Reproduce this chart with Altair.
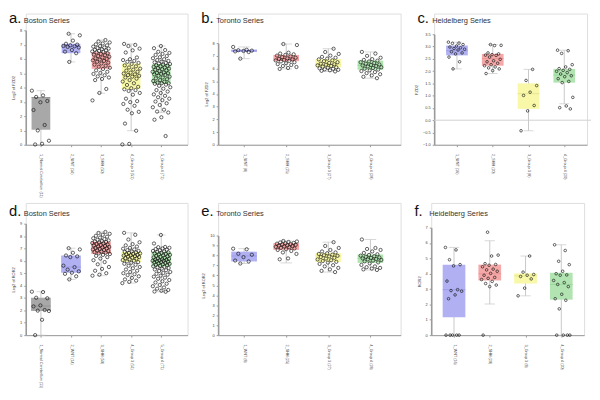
import altair as alt
import pandas as pd
import numpy as np

FONT = "Liberation Sans"

# ---------------- Panel a: Boston Series (FZD2) ----------------
A_CATS = ["1_Normal Cerebellum (11)", "2_WNT (14)", "3_SHH (50)", "4_Group 3 (51)", "5_Group 4 (71)"]
A_Q1 = [1.05, 6.40, 5.31, 3.89, 4.26]
A_MED = [3.30, 6.85, 6.00, 4.87, 5.00]
A_Q3 = [3.34, 7.06, 6.47, 5.68, 5.64]
A_LO = [0.02, 5.79, 3.60, 0.98, 2.25]
A_HI = [3.78, 7.76, 7.32, 7.05, 6.90]
A_PTS = [
    [3.78, 3.45, 3.34, 3.06, 2.97, 2.43, 1.38, 1.0, 0.28, 0.07, 0.02],
    [7.76, 7.65, 7.28, 7.06, 7.0, 6.95, 6.9, 6.88, 6.84, 6.8, 6.62, 6.51, 6.4, 5.79],
    [7.32, 7.22, 7.15, 7.08, 7.02, 6.95, 6.9, 6.86, 6.8, 6.76, 6.72, 6.68, 6.64, 6.6, 6.56,
     6.52, 6.48, 6.45, 6.4, 6.35, 6.3, 6.26, 6.2, 6.15, 6.1, 6.04, 6.0, 5.95, 5.9, 5.86,
     5.8, 5.74, 5.68, 5.6, 5.52, 5.45, 5.38, 5.3, 5.2, 5.1, 5.02, 4.95, 4.86, 4.78, 4.7,
     4.6, 4.52, 3.9, 3.62, 3.1],
    [7.05, 6.98, 6.9, 6.72, 6.6, 6.45, 6.1, 5.98, 5.92, 5.86, 5.8, 5.72, 5.65, 5.55, 5.48,
     5.4, 5.32, 5.25, 5.18, 5.1, 5.04, 4.98, 4.92, 4.87, 4.82, 4.76, 4.7, 4.62, 4.52, 4.42,
     4.3, 4.18, 4.05, 3.95, 3.88, 3.82, 3.76, 3.62, 3.5, 3.22, 3.05, 2.98, 2.85, 2.72, 2.45,
     2.3, 2.2, 1.48, 0.98, 0.06, 0.02],
    [6.9, 6.75, 6.62, 6.5, 6.42, 6.35, 6.28, 6.2, 6.12, 6.05, 5.98, 5.92, 5.86, 5.8, 5.76,
     5.72, 5.68, 5.64, 5.6, 5.56, 5.52, 5.48, 5.44, 5.4, 5.36, 5.32, 5.28, 5.24, 5.2, 5.15,
     5.1, 5.05, 5.02, 5.0, 4.96, 4.92, 4.88, 4.82, 4.76, 4.7, 4.64, 4.58, 4.52, 4.46, 4.4,
     4.34, 4.3, 4.3, 4.26, 4.2, 4.12, 4.02, 3.92, 3.82, 3.72, 3.62, 3.52, 3.42, 3.32, 3.22,
     3.12, 3.02, 2.9, 2.78, 2.62, 2.45, 2.32, 2.25, 1.92, 1.75, 0.61],
]

# ---------------- Panel b: Toronto Series (FZD2) ----------------
B_CATS = ["1_WNT (8)", "2_SHH (25)", "3_Group 3 (27)", "4_Group 4 (28)"]
B_Q1 = [7.31, 6.58, 6.09, 5.90]
B_MED = [7.40, 6.75, 6.34, 6.26]
B_Q3 = [7.49, 7.07, 6.75, 6.63]
B_LO = [6.78, 5.97, 5.77, 5.24]
B_HI = [7.70, 7.93, 7.56, 7.31]
B_PTS = [
    [7.7, 7.48, 7.44, 7.41, 7.38, 7.35, 7.3, 6.78],
    [7.93, 7.85, 7.25, 7.18, 7.12, 7.07, 7.02, 6.96, 6.9, 6.85, 6.8, 6.76, 6.72, 6.68, 6.64,
     6.6, 6.56, 6.5, 6.42, 6.35, 6.28, 6.2, 6.12, 6.04, 5.97],
    [7.56, 7.3, 7.15, 7.02, 6.92, 6.85, 6.78, 6.72, 6.65, 6.58, 6.5, 6.44, 6.38, 6.34, 6.3,
     6.25, 6.2, 6.15, 6.1, 6.06, 6.02, 5.98, 5.94, 5.9, 5.86, 5.82, 5.77],
    [7.31, 7.18, 7.0, 6.85, 6.74, 6.68, 6.62, 6.56, 6.5, 6.44, 6.38, 6.32, 6.28, 6.24, 6.2,
     6.16, 6.1, 6.04, 5.98, 5.92, 5.86, 5.8, 5.72, 5.64, 5.55, 5.46, 5.35, 5.24],
]

# ---------------- Panel c: Heidelberg Series (FZD2) ----------------
C_CATS = ["1_WNT (16)", "2_SHH (20)", "3_Group 3 (8)", "4_Group 4 (20)"]
C_Q1 = [2.64, 2.22, 0.46, 1.53]
C_MED = [2.83, 2.51, 1.08, 1.84]
C_Q3 = [3.04, 2.70, 1.50, 2.09]
C_LO = [2.09, 1.90, -0.43, 0.67]
C_HI = [3.18, 3.08, 2.07, 2.85]
C_PTS = [
    [3.18, 3.14, 3.13, 3.08, 3.02, 2.98, 2.95, 2.92, 2.89, 2.86, 2.79, 2.74, 2.7, 2.57, 2.38, 2.09],
    [3.08, 3.05, 3.04, 2.74, 2.7, 2.67, 2.65, 2.64, 2.57, 2.48, 2.42, 2.38, 2.32, 2.26, 2.22,
     2.17, 2.13, 2.09, 2.02, 1.9],
    [2.07, 1.62, 1.41, 1.14, 1.01, 0.6, 0.38, -0.43],
    [2.85, 2.83, 2.72, 2.26, 2.17, 2.1, 2.07, 2.03, 1.99, 1.94, 1.88, 1.81, 1.77, 1.69, 1.58,
     1.53, 0.93, 0.58, 0.51, 0.46],
]

# ---------------- Panel d: Boston Series (second gene) ----------------
D_CATS = A_CATS
D_Q1 = [1.95, 5.04, 6.55, 5.91, 5.54]
D_MED = [2.35, 5.50, 7.10, 6.43, 6.10]
D_Q3 = [3.02, 6.43, 7.54, 6.73, 6.73]
D_LO = [0.0, 4.50, 4.80, 4.20, 3.50]
D_HI = [3.51, 7.02, 8.33, 8.26, 8.09]
D_PTS = [
    [3.51, 3.48, 3.02, 2.98, 2.4, 2.32, 2.03, 1.98, 1.95, 1.24, 0.0],
    [7.02, 6.92, 6.65, 6.43, 6.36, 6.3, 5.61, 5.49, 5.29, 5.15, 5.04, 4.95, 4.75, 4.5],
    [8.33, 8.25, 8.18, 8.1, 8.02, 7.95, 7.88, 7.82, 7.76, 7.7, 7.65, 7.6, 7.56, 7.52, 7.48,
     7.44, 7.4, 7.36, 7.32, 7.28, 7.24, 7.2, 7.16, 7.12, 7.08, 7.04, 7.0, 6.96, 6.92, 6.88,
     6.84, 6.8, 6.75, 6.7, 6.65, 6.6, 6.55, 6.48, 6.4, 6.3, 6.18, 6.05, 5.9, 5.72, 5.5,
     5.35, 5.2, 5.0, 4.88, 4.8],
    [8.26, 8.1, 7.72, 7.5, 7.35, 7.25, 7.15, 7.05, 6.98, 6.92, 6.86, 6.8, 6.76, 6.72, 6.68,
     6.64, 6.6, 6.56, 6.52, 6.48, 6.45, 6.42, 6.38, 6.34, 6.3, 6.26, 6.22, 6.18, 6.12, 6.06,
     6.0, 5.95, 5.9, 5.84, 5.76, 5.68, 5.6, 5.5, 5.4, 5.3, 5.2, 5.1, 5.0, 4.92, 4.85,
     4.75, 4.62, 4.5, 4.4, 4.3, 4.2],
    [8.09, 7.4, 7.12, 7.1, 7.05, 7.0, 6.95, 6.9, 6.85, 6.8, 6.76, 6.72, 6.68, 6.64, 6.6,
     6.56, 6.52, 6.48, 6.44, 6.4, 6.36, 6.32, 6.28, 6.24, 6.2, 6.16, 6.12, 6.1, 6.08, 6.04,
     6.0, 6.0, 5.96, 5.92, 5.9, 5.88, 5.84, 5.8, 5.76, 5.72, 5.68, 5.64, 5.6, 5.56, 5.52,
     5.48, 5.42, 5.36, 5.3, 5.24, 5.18, 5.1, 5.02, 4.95, 4.88, 4.8, 4.72, 4.64, 4.55, 4.45,
     4.35, 4.25, 4.15, 4.05, 3.95, 3.85, 3.75, 3.65, 3.58, 3.52, 3.5],
]

# ---------------- Panel e: Toronto Series (second gene) ----------------
E_CATS = B_CATS
E_Q1 = [7.40, 8.56, 7.34, 7.25]
E_MED = [7.95, 8.93, 7.95, 7.71]
E_Q3 = [8.38, 9.24, 8.23, 8.10]
E_LO = [7.19, 7.25, 6.33, 6.54]
E_HI = [8.68, 9.45, 9.33, 9.60]
E_PTS = [
    [8.68, 8.62, 8.17, 8.07, 7.83, 7.49, 7.4, 7.19],
    [9.45, 9.4, 9.35, 9.3, 9.26, 9.22, 9.18, 9.14, 9.1, 9.06, 9.02, 8.98, 8.94, 8.9, 8.86,
     8.82, 8.76, 8.7, 8.62, 8.55, 8.45, 8.3, 8.15, 7.7, 7.61],
    [9.33, 8.95, 8.75, 8.55, 8.4, 8.3, 8.22, 8.15, 8.08, 8.02, 7.96, 7.9, 7.84, 7.76, 7.68,
     7.6, 7.52, 7.44, 7.36, 7.28, 7.15, 7.02, 6.9, 6.75, 6.6, 6.45, 6.33],
    [9.6, 8.75, 8.65, 8.55, 8.4, 8.25, 8.12, 8.05, 7.98, 7.92, 7.86, 7.8, 7.75, 7.7, 7.65,
     7.6, 7.54, 7.48, 7.4, 7.3, 7.2, 7.05, 6.9, 6.82, 6.75, 6.68, 6.6, 6.54],
]

# ---------------- Panel f: Heidelberg Series (second gene) ----------------
F_CATS = C_CATS
F_Q1 = [1.17, 3.56, 3.36, 2.31]
F_MED = [2.96, 4.00, 3.86, 3.30]
F_Q3 = [4.59, 4.59, 4.02, 4.06]
F_LO = [0.0, 2.03, 2.56, 0.0]
F_HI = [5.71, 6.14, 5.15, 5.88]
F_PTS = [
    [5.71, 5.55, 4.91, 4.59, 4.51, 3.52, 2.96, 2.9, 2.86, 2.62, 2.37, 0.0, 0.0, 0.0, 0.0, 0.0],
    [6.7, 5.21, 5.15, 4.65, 4.6, 4.55, 4.45, 4.3, 4.25, 4.16, 4.02, 3.9, 3.76, 3.7, 3.62,
     3.5, 3.36, 3.26, 3.16, 0.0],
    [5.15, 4.1, 3.95, 3.9, 3.82, 3.66, 3.06, 2.56],
    [5.88, 5.51, 4.81, 4.59, 4.16, 4.0, 3.92, 3.9, 3.56, 3.42, 3.3, 3.16, 2.66, 2.37, 2.27,
     1.71, 0.0, 0.0, 0.0, 0.0],
]

BOX5 = ["#a8a8a8", "#b0b0f2", "#f5a8a8", "#f8f8a8", "#b2e4b2"]
MED5 = ["#8e8e8e", "#9595e6", "#e88e8e", "#e0e08a", "#90d090"]
BOX4 = BOX5[1:]
MED4 = MED5[1:]
WHISK = "#c8c8c8"
AXC = "#9a9a9a"


def panel(letter, series, cats, q1, med, q3, lo, hi, pts, box_cols, med_cols,
          ydom, ystep, yfmt, ytitle, W, H, ytop, xdom, box_w, pt_size, jit,
          letter_y, zero=False):
    n = len(cats)
    boxes = pd.DataFrame({"idx": list(range(1, n + 1)), "q1": q1, "med": med, "q3": q3,
                          "lo": lo, "hi": hi, "col": box_cols, "mcol": med_cols})
    rows = []
    for i, grp in enumerate(pts):
        for j, v in enumerate(grp):
            off = ((j * 0.6180339887 + i * 0.37) % 1.0 - 0.5) * 2 * jit
            rows.append({"xj": i + 1 + off, "v": v})
    pdf = pd.DataFrame(rows)

    names = ",".join("'%s'" % c for c in cats)
    xaxis = alt.Axis(values=list(range(1, n + 1)), labelExpr="[%s][datum.value - 1]" % names,
                     labelAngle=90, labelAlign="left", labelBaseline="middle",
                     labelFontSize=3.8, labelFont=FONT, labelColor="#444", labelPadding=7,
                     tickSize=2, tickColor=AXC, domainColor=AXC, domainWidth=1,
                     grid=False, title=None)
    ticks = [round(t, 2) for t in np.arange(ydom[0], ydom[1] + 1e-9, ystep)]
    yaxis = alt.Axis(values=ticks, format=yfmt, labelFontSize=4, labelFont=FONT,
                     labelColor="#444", tickSize=2, tickColor=AXC, domainColor=AXC,
                     domainWidth=1.6, grid=False, title=ytitle, titleFontSize=4,
                     titleFont=FONT, titleFontWeight="normal", titleColor="#444",
                     titlePadding=4, labelPadding=2)
    xscale = alt.Scale(domain=xdom, nice=False, zero=False)
    yscale = alt.Scale(domain=ydom, range=[H, ytop], nice=False, zero=False)

    def X(f):
        return alt.X(f + ":Q", scale=xscale, axis=xaxis)

    def Y(f):
        return alt.Y(f + ":Q", scale=yscale, axis=yaxis)

    base = alt.Chart(boxes)
    layers = []
    if zero:
        layers.append(alt.Chart(pd.DataFrame({"z": [0.0]})).mark_rule(color="#d0d0d0", strokeWidth=1)
                      .encode(y=Y("z"), x=alt.value(0), x2=alt.value(W + 4)))
    layers += [
        base.mark_rule(color=WHISK, strokeWidth=1).encode(x=X("idx"), y=Y("lo"), y2=alt.Y2("hi")),
        base.mark_tick(orient="horizontal", size=box_w * 0.45, thickness=1, color=WHISK)
            .encode(x=X("idx"), y=Y("lo")),
        base.mark_tick(orient="horizontal", size=box_w * 0.45, thickness=1, color=WHISK)
            .encode(x=X("idx"), y=Y("hi")),
        base.mark_bar(width=box_w).encode(x=X("idx"), y=Y("q1"), y2=alt.Y2("q3"),
                                          color=alt.Color("col:N", scale=None)),
        base.mark_tick(orient="horizontal", size=box_w, thickness=1)
            .encode(x=X("idx"), y=Y("med"), color=alt.Color("mcol:N", scale=None)),
        alt.Chart(pdf).mark_point(shape="circle", filled=False, color="#111", size=pt_size,
                                  strokeWidth=0.65, opacity=1).encode(x=X("xj"), y=Y("v")),
        alt.Chart(pd.DataFrame({"t": [letter]})).mark_text(
            align="left", baseline="alphabetic", fontSize=15, font=FONT, fontWeight="normal",
            color="#111").encode(text="t:N", x=alt.value(-17), y=alt.value(letter_y)),
        alt.Chart(pd.DataFrame({"t": [series]})).mark_text(
            align="left", baseline="alphabetic", fontSize=7.5, font=FONT, fontWeight="normal",
            color="#333").encode(text="t:N", x=alt.value(-2), y=alt.value(letter_y)),
    ]
    return alt.layer(*layers).properties(width=W, height=H)


H1, H2 = 133, 134
a = panel("a.", "Boston Series", A_CATS, A_Q1, A_MED, A_Q3, A_LO, A_HI, A_PTS, BOX5, MED5,
          [0, 8], 1, "d", "Log2 of FZD2", 164, H1, 17, [0.66, 5.71], 19, 11, 0.3, 10)
b = panel("b.", "Toronto Series", B_CATS, B_Q1, B_MED, B_Q3, B_LO, B_HI, B_PTS, BOX4, MED4,
          [0, 8], 1, "d", "Log2 of FZD2", 185, H1, 30, [0.5, 4.6], 26, 11, 0.26, 10)
c = panel("c.", "Heidelberg Series", C_CATS, C_Q1, C_MED, C_Q3, C_LO, C_HI, C_PTS, BOX4, MED4,
          [-1, 3.5], 0.5, ".1f", "FZD2", 155, H1, 21, [0.5, 4.5], 22, 7, 0.24, 10, zero=True)
d = panel("d.", "Boston Series", D_CATS, D_Q1, D_MED, D_Q3, D_LO, D_HI, D_PTS, BOX5, MED5,
          [0, 9], 1, "d", "Log2 of ROR2", 164, H2, 21, [0.66, 5.71], 20, 11, 0.3, 13)
e = panel("e.", "Toronto Series", E_CATS, E_Q1, E_MED, E_Q3, E_LO, E_HI, E_PTS, BOX4, MED4,
          [0, 10], 1, "d", "Log2 of ROR2", 185, H2, 33, [0.5, 4.6], 26, 11, 0.26, 13)
f = panel("f.", "Heidelberg Series", F_CATS, F_Q1, F_MED, F_Q3, F_LO, F_HI, F_PTS, BOX4, MED4,
          [0, 7], 1, "d", "ROR2", 155, H2, 25, [0.5, 4.5], 23, 7, 0.24, 13)

chart = alt.vconcat(
    alt.hconcat(a, b, c, spacing=12),
    alt.hconcat(d, e, f, spacing=12),
    spacing=4,
).properties(padding=0).configure_view(stroke=None).configure(background="white")

chart.save("out.html", embed_options={"renderer": "svg", "actions": False})
